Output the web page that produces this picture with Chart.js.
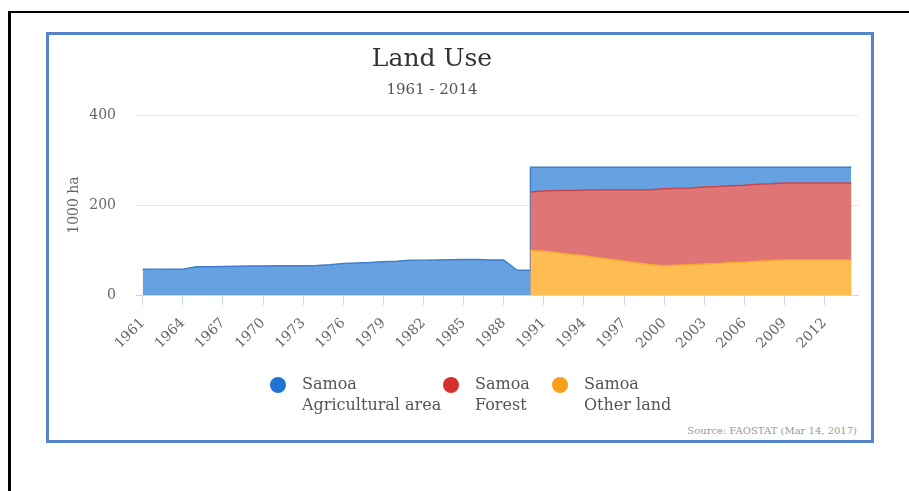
<!DOCTYPE html>
<html>
<head>
<meta charset="utf-8">
<script src="https://cdn.jsdelivr.net/npm/chart.js@4.4.1/dist/chart.umd.min.js"></script>
<style>
  html, body { margin: 0; padding: 0; background: #fff; width: 909px; height: 491px; overflow: hidden; }
  #frame { position: absolute; left: 8px; top: 11px; width: 898px; height: 478px; border-left: 3px solid #000; border-top: 2px solid #000; }
  #box { position: absolute; left: 46px; top: 32px; width: 822px; height: 405px; border: 3px solid #5585c8; background: #fff; }
  #credit { position: absolute; right: 14px; bottom: 4px; font: 10px "DejaVu Serif"; color: #999; }
  #wrap { position: absolute; left: 6px; top: 35px; width: 865px; height: 405px; }
</style>
</head>
<body>
<div id="frame"></div>
<div id="box">
  <div id="credit">Source: FAOSTAT (Mar 14, 2017)</div>
</div>
<div id="wrap"><canvas id="c"></canvas></div>
<script>
// ---- data ----
const years = [1961,1962,1963,1964,1965,1966,1967,1968,1969,1970,1971,1972,1973,1974,1975,1976,1977,1978,1979,1980,
  1981,1982,1983,1984,1985,1986,1987,1988,1989,1990,1991,1992,1993,1994,1995,1996,1997,1998,1999,2000,
  2001,2002,2003,2004,2005,2006,2007,2008,2009,2010,2011,2012,2013,2014];
const agricultural = [57,57.5,57.5,57.5,63,63,63.5,64,64.5,64.5,65,65,65,65.5,67,70,71,72,74,75,
  77,77.5,78,78.5,79,79,78,78,55,55,53,52,52,51,50,50,50,50,50,48,
  47,46,44,43,41,40,38,37,35,35,35,35,35,35];
const forestYears = [1990,1991,1992,1993,1994,1995,1996,1997,1998,1999,2000,2001,2002,2003,2004,2005,2006,2007,2008,2009,2010,2011,2012,2013,2014];
const forest = [130,134,138,142,146,151,155,159,163,167,171,171,171,171,171,171,171,171,171,171,171,171,171,171,171];
const otherLand = [99,97,94,90,87,83,79,75,71,67,65,66,67,69,70,72,73,75,76,78,78,78,78,78,78];
const tickYears = [1961,1964,1967,1970,1973,1976,1979,1982,1985,1988,1991,1994,1997,2000,2003,2006,2009,2012];
const yTicks = [0,200,400];
const seriesNames = [['Samoa','Agricultural area'],['Samoa','Forest'],['Samoa','Other land']];
const legendColors = ['#1f74d3','#d63030','#f99f1c'];

// ---- build stacked tops (stacking where forest / other land are missing before 1990) ----
const otherPts = forestYears.map((y, i) => ({x: y, y: otherLand[i]}));
const forestPts = forestYears.map((y, i) => ({x: y, y: otherLand[i] + forest[i]}));
const agriPts = [];
years.forEach((y, i) => {
  const k = forestYears.indexOf(y);
  if (k < 0) { agriPts.push({x: y, y: agricultural[i]}); }
  else {
    if (k === 0) agriPts.push({x: y, y: agricultural[i]});
    agriPts.push({x: y, y: agricultural[i] + forest[k] + otherLand[k]});
  }
});

// custom two-line legend drawn on the canvas
const faoLegend = {
  id: 'faoLegend',
  afterDraw(chart, args, opts) {
    const ctx = chart.ctx;
    ctx.save();
    ctx.font = '16px "DejaVu Serif"';
    ctx.textBaseline = 'middle';
    ctx.textAlign = 'left';
    chart.data.datasets.forEach((ds, i) => {
      const x = opts.itemX[i];
      ctx.beginPath();
      ctx.fillStyle = legendColors[i];
      ctx.arc(x + 8, opts.y, 8, 0, Math.PI * 2);
      ctx.fill();
      ctx.fillStyle = '#555';
      seriesNames[i].forEach((line, j) => ctx.fillText(line, x + 32, opts.y + j * opts.lineHeight));
    });
    ctx.restore();
  }
};

Chart.defaults.font.family = '"DejaVu Serif"';
Chart.defaults.color = '#666';

new Chart(document.getElementById('c'), {
  type: 'line',
  plugins: [faoLegend],
  data: {
    datasets: [
      { label: seriesNames[0].join(' '), data: agriPts, order: 3, fill: 'origin',
        backgroundColor: '#66a2e2', borderColor: '#3f7fcc', borderWidth: 1.5, pointRadius: 0, tension: 0 },
      { label: seriesNames[1].join(' '), data: forestPts, order: 2, fill: 'origin',
        backgroundColor: '#e07575', borderColor: '#c5474d', borderWidth: 1.5, pointRadius: 0, tension: 0 },
      { label: seriesNames[2].join(' '), data: otherPts, order: 1, fill: 'origin',
        backgroundColor: '#fdbd52', borderColor: '#f7ab35', borderWidth: 1.5, pointRadius: 0, tension: 0 }
    ]
  },
  options: {
    responsive: true,
    maintainAspectRatio: false,
    animation: false,
    events: [],
    layout: { padding: { left: 0, right: 13, top: 0, bottom: 65 } },
    scales: {
      x: {
        type: 'linear', min: 1960.5, max: 2014.5,
        afterBuildTicks: s => { s.ticks = tickYears.map(v => ({ value: v })); },
        ticks: { autoSkip: false, minRotation: 45, maxRotation: 45, padding: 10,
          font: { size: 14 }, color: '#666', callback: v => String(v) },
        grid: { drawOnChartArea: false, drawTicks: true, tickLength: 10, color: '#ccd6eb' },
        border: { color: '#ccd6eb' },
        afterFit: s => { s.height = 80; }
      },
      y: {
        min: 0, max: 400,
        afterBuildTicks: s => { s.ticks = yTicks.map(v => ({ value: v })); },
        ticks: { font: { size: 14 }, color: '#666', padding: 20 },
        grid: { color: '#e6e6e6', drawTicks: false },
        border: { display: false },
        title: { display: true, text: '1000 ha', font: { size: 14 }, color: '#666', padding: { top: 60, bottom: 0 } },
        afterFit: s => { s.width = 130; }
      }
    },
    plugins: {
      title: { display: true, text: 'Land Use', font: { size: 25, weight: 'normal' }, color: '#333',
        padding: { top: 9, bottom: 7 } },
      subtitle: { display: true, text: '1961 - 2014', font: { size: 15 }, color: '#555',
        padding: { top: 0, bottom: 16 } },
      legend: { display: false },
      faoLegend: { itemX: [264, 437, 546], y: 350, lineHeight: 21 },
      tooltip: { enabled: false }
    }
  }
});
</script>
</body>
</html>
